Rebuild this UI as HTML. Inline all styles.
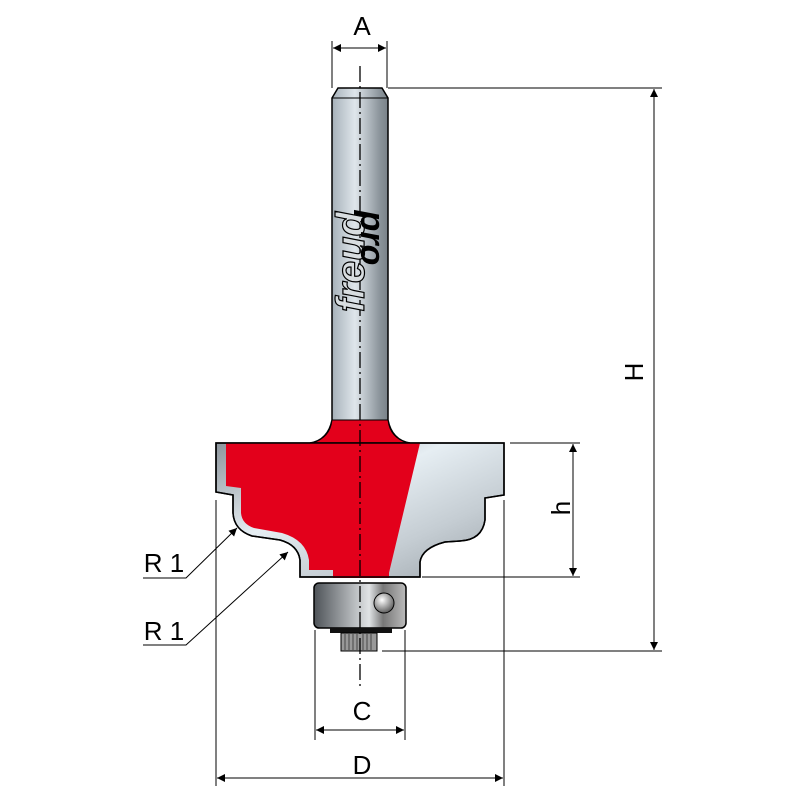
<!DOCTYPE html>
<html><head><meta charset="utf-8"><style>html,body{margin:0;padding:0;background:#fff}svg{display:block}</style></head>
<body>
<svg width="800" height="800" viewBox="0 0 800 800" xmlns="http://www.w3.org/2000/svg" font-family="Liberation Sans, sans-serif">
<defs>
<linearGradient id="sh" x1="0" x2="1" y1="0" y2="0">
<stop offset="0" stop-color="#5a6066"/><stop offset="0.25" stop-color="#aeb8c0"/><stop offset="0.45" stop-color="#dfe6eb"/><stop offset="0.7" stop-color="#8a939a"/><stop offset="1" stop-color="#4c5257"/></linearGradient>
<linearGradient id="gr" x1="0" y1="0" x2="1" y2="1">
<stop offset="0" stop-color="#8d959c"/><stop offset="0.4" stop-color="#e6eef3"/><stop offset="0.7" stop-color="#c5cdd3"/><stop offset="1" stop-color="#9aa2a8"/></linearGradient>
<linearGradient id="br" x1="0" x2="1">
<stop offset="0" stop-color="#4e5358"/><stop offset="0.6" stop-color="#e0e3e5"/><stop offset="0.75" stop-color="#777"/><stop offset="1" stop-color="#bbb"/></linearGradient>
<radialGradient id="ball" cx="0.4" cy="0.35" r="0.7"><stop offset="0" stop-color="#fff"/><stop offset="1" stop-color="#555"/></radialGradient>
<marker id="ar" viewBox="0 0 10 10" refX="10" refY="5" markerWidth="12" markerHeight="8" orient="auto-start-reverse" markerUnits="userSpaceOnUse"><path d="M0,0 L10,5 L0,10 z" fill="#000"/></marker>
</defs>
<path d="M332,98 L338,88 L382,88 L388,98 L388,420 Q392,440 410,443 L310,443 Q328,440 332,420 Z" fill="url(#sh)" stroke="#000" stroke-width="1.5"/>
<path d="M332,420 Q330,438 312,443 L408,443 Q390,438 388,420 Z" fill="#e3001b" stroke="#000" stroke-width="1"/>
<line x1="332" y1="98" x2="388" y2="98" stroke="#000" stroke-width="1"/>
<path d="M216,443 L504,443 L504,495 L485,498 L485,520 Q482,540 460,541 L445,542 Q422,548 420,562 L420,577 L300,577 L300,560 Q298,545 280,540 L252,536 Q234,530 233,513 L233,495 L216,492 Z" fill="url(#gr)" stroke="#000" stroke-width="1.5"/>
<path d="M226,443 L420,443 L388,577 L333,577 L333,570 L309,570 L309,560 Q306,540 282,533 L254,528 Q242,524 241,513 L241,488 L226,486 Z" fill="#e3001b"/>
<rect x="333" y="570" width="56" height="8" fill="#e3001b"/>
<path d="M216,443 L504,443 L504,495 L485,498 L485,520 Q482,540 460,541 L445,542 Q422,548 420,562 L420,577 L300,577 L300,560 Q298,545 280,540 L252,536 Q234,530 233,513 L233,495 L216,492 Z" fill="none" stroke="#000" stroke-width="1.5"/>
<rect x="314" y="583" width="92" height="45" rx="5" fill="url(#br)" stroke="#000" stroke-width="1.5"/>
<circle cx="384" cy="603" r="10" fill="url(#ball)" stroke="#000"/>
<rect x="330" y="628" width="62" height="5" fill="#111"/>
<rect x="341" y="633" width="36" height="18" fill="#999" stroke="#000"/>
<g stroke="#333" stroke-width="0.8"><line x1="345" y1="634" x2="345" y2="650"/><line x1="349" y1="634" x2="349" y2="650"/><line x1="353" y1="634" x2="353" y2="650"/><line x1="357" y1="634" x2="357" y2="650"/><line x1="363" y1="634" x2="363" y2="650"/><line x1="367" y1="634" x2="367" y2="650"/><line x1="371" y1="634" x2="371" y2="650"/></g>
<line x1="360" y1="66" x2="360" y2="690" stroke="#000" stroke-width="1.3" stroke-dasharray="16,4,2,4"/>
<text transform="translate(364,262) rotate(-90)" font-size="40" font-weight="bold" font-style="italic" text-anchor="middle" fill="#d8dde0" stroke="#000" stroke-width="1.2">freud</text>
<text transform="translate(361,238) rotate(90)" font-size="34" font-weight="bold" font-style="italic" text-anchor="middle" fill="#000">pro</text>
<g stroke="#000" stroke-width="1" fill="none">
<line x1="332" y1="41" x2="332" y2="88"/><line x1="387" y1="41" x2="387" y2="88"/>
<line x1="333" y1="48" x2="386" y2="48" marker-start="url(#ar)" marker-end="url(#ar)"/>
<line x1="388" y1="88" x2="662" y2="88"/><line x1="382" y1="651" x2="662" y2="651"/>
<line x1="654" y1="89" x2="654" y2="650" marker-start="url(#ar)" marker-end="url(#ar)"/>
<line x1="510" y1="443" x2="580" y2="443"/><line x1="422" y1="577" x2="580" y2="577"/>
<line x1="573" y1="444" x2="573" y2="576" marker-start="url(#ar)" marker-end="url(#ar)"/>
<line x1="315" y1="630" x2="315" y2="740"/><line x1="405" y1="630" x2="405" y2="740"/>
<line x1="316" y1="730" x2="404" y2="730" marker-start="url(#ar)" marker-end="url(#ar)"/>
<line x1="216" y1="500" x2="216" y2="786"/><line x1="504" y1="500" x2="504" y2="786"/>
<line x1="217" y1="778" x2="503" y2="778" marker-start="url(#ar)" marker-end="url(#ar)"/>
<polyline points="143,578 186,578 237,528" marker-end="url(#ar)"/>
<polyline points="143,645 186,645 288,552" marker-end="url(#ar)"/>
</g>
<g font-size="26" fill="#000" text-anchor="middle">
<text x="362" y="35">A</text>
<text x="362" y="720">C</text>
<text x="362" y="774">D</text>
<text transform="translate(643,372) rotate(-90)">H</text>
<text transform="translate(570,508) rotate(-90)">h</text>
<text x="164" y="572">R 1</text>
<text x="164" y="640">R 1</text>
</g>
</svg>
</body></html>
